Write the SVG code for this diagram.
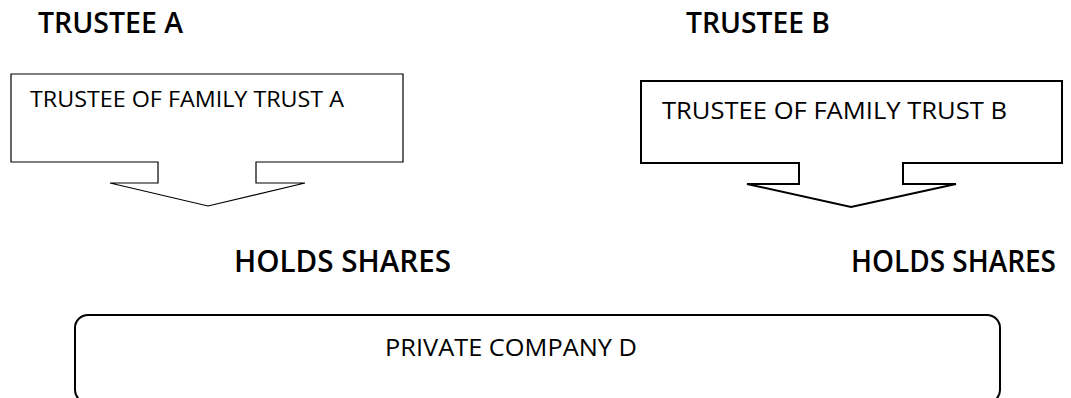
<svg xmlns="http://www.w3.org/2000/svg" width="1071" height="398" viewBox="0 0 1071 398">
  <style>
    .head { font-family: "Open Sans", "Liberation Sans", sans-serif; font-weight: 600; fill: #000; }
    .body { font-family: "Open Sans", "Liberation Sans", sans-serif; fill: #000; }
    .callout { fill: #fff; stroke: #000; stroke-linejoin: miter; }
    .box { fill: #fff; stroke: #000; stroke-width: 2; }
  </style>
  <rect width="1071" height="398" fill="#fff"/>

  <!-- Trustee A: heading and down-arrow callout -->
  <g id="trustee-a">
    <text class="head" x="38" y="33" font-size="28" textLength="145" lengthAdjust="spacingAndGlyphs">TRUSTEE A</text>
    <path class="callout" stroke-width="1.2" d="M11,74 H403 V162 H256 V183 H305 L208,206 L110,183 H158 V162 H11 Z"/>
    <text class="body" x="30" y="107" font-size="21.5" textLength="314" lengthAdjust="spacingAndGlyphs">TRUSTEE OF FAMILY TRUST A</text>
  </g>

  <!-- Trustee B: heading and down-arrow callout -->
  <g id="trustee-b">
    <text class="head" x="686" y="33" font-size="28" textLength="144" lengthAdjust="spacingAndGlyphs">TRUSTEE B</text>
    <path class="callout" stroke-width="2" d="M641,81 H1062 V163 H903 V184 H956 L851,207 L747,184 H799 V163 H641 Z"/>
    <text class="body" x="662" y="119" font-size="23.5" textLength="345" lengthAdjust="spacingAndGlyphs">TRUSTEE OF FAMILY TRUST B</text>
  </g>

  <!-- Relationship labels between the trustees and the company -->
  <g id="connectors">
    <text class="head" x="234" y="272" font-size="31" textLength="217" lengthAdjust="spacingAndGlyphs">HOLDS SHARES</text>
    <text class="head" x="851" y="272" font-size="30" textLength="205" lengthAdjust="spacingAndGlyphs">HOLDS SHARES</text>
  </g>

  <!-- Company box -->
  <g id="company-d">
    <rect class="box" x="75" y="315" width="925" height="88" rx="13" ry="13"/>
    <text class="body" x="385" y="356" font-size="24.5" textLength="252" lengthAdjust="spacingAndGlyphs">PRIVATE COMPANY D</text>
  </g>
</svg>
